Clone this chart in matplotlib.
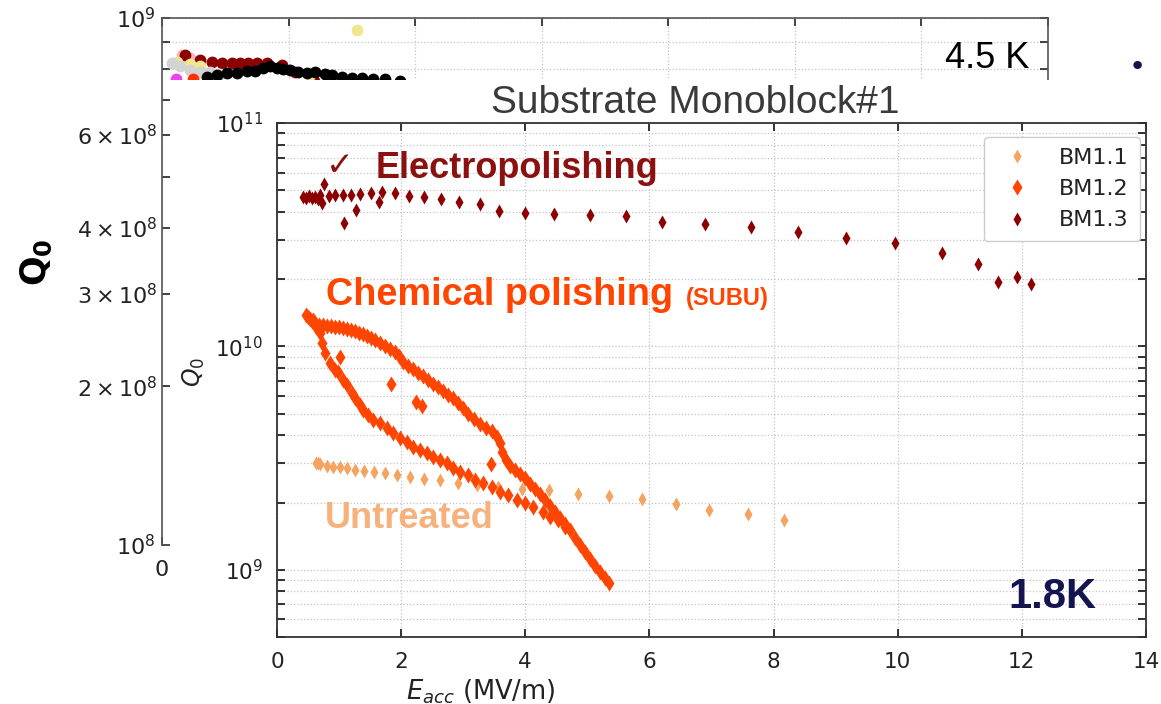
import numpy as np
import matplotlib
matplotlib.use("Agg")
import matplotlib.pyplot as plt
from matplotlib.patches import Rectangle
from matplotlib.ticker import MultipleLocator, LogLocator

# ---------------- data ----------------
# 1.8 K measurements: E_acc (MV/m), Q0
bm11_e = [0.63, 0.66, 0.69, 0.81, 0.90, 1.01, 1.13, 1.26, 1.40, 1.56, 1.74, 1.93, 2.14, 2.37,
          2.63, 2.92, 3.22, 3.56, 3.95, 4.38, 4.85, 5.35, 5.88, 6.43, 6.96, 7.59, 8.17]
bm11_q = [3.01e9, 3.01e9, 2.98e9, 2.92e9, 2.89e9, 2.89e9, 2.86e9, 2.80e9, 2.77e9, 2.74e9,
          2.72e9, 2.66e9, 2.61e9, 2.55e9, 2.53e9, 2.45e9, 2.40e9, 2.35e9, 2.30e9, 2.28e9,
          2.19e9, 2.14e9, 2.08e9, 1.97e9, 1.85e9, 1.78e9, 1.67e9]

bm12_up_e = [0.47, 0.50, 0.53, 0.56, 0.61, 0.68, 0.74, 0.81, 0.87, 0.93, 1.00, 1.06, 1.13, 1.19,
             1.26, 1.32, 1.39, 1.45, 1.51, 1.58, 1.66, 1.74, 1.82, 1.90, 1.97, 2.03, 2.11, 2.19,
             2.27, 2.35, 2.43, 2.51, 2.59, 2.67, 2.75, 2.84, 2.92, 3.00, 3.08, 3.17, 3.27, 3.37,
             3.46, 3.54, 3.59, 3.62, 3.69, 3.75, 3.83, 3.91, 4.00, 4.08, 4.16, 4.24, 4.32, 4.40,
             4.48, 4.56, 4.64, 4.72, 4.80, 4.88, 4.96, 5.04, 5.12, 5.20, 5.28, 5.35]
bm12_up_q = [1.38e10, 1.355e10, 1.33e10, 1.30e10, 1.27e10, 1.25e10, 1.25e10, 1.235e10, 1.235e10,
             1.22e10, 1.22e10, 1.21e10, 1.20e10, 1.185e10, 1.17e10, 1.15e10, 1.14e10, 1.11e10,
             1.09e10, 1.07e10, 1.04e10, 1.00e10, 9.75e9, 9.45e9, 9.07e9, 8.53e9, 8.19e9, 7.93e9,
             7.61e9, 7.38e9, 7.08e9, 6.79e9, 6.59e9, 6.32e9, 6.07e9, 5.89e9, 5.59e9, 5.31e9,
             4.99e9, 4.74e9, 4.50e9, 4.32e9, 4.19e9, 3.94e9, 3.70e9, 3.37e9, 3.11e9, 2.92e9,
             2.80e9, 2.69e9, 2.58e9, 2.43e9, 2.30e9, 2.19e9, 2.06e9, 1.93e9, 1.82e9, 1.71e9,
             1.61e9, 1.50e9, 1.39e9, 1.29e9, 1.20e9, 1.12e9, 1.04e9, 9.8e8, 9.2e8, 8.75e8]
bm12_down_e = [0.58, 0.63, 0.69, 0.72, 0.77, 0.85, 0.93, 0.98, 1.06, 1.13, 1.21, 1.26, 1.34, 1.39,
               1.47, 1.55, 1.66, 1.77, 1.87, 1.98, 2.09, 2.19, 2.30, 2.42, 2.51, 2.63, 2.74, 2.84,
               2.95, 3.08, 3.19, 3.32, 3.46, 3.59, 3.72, 3.87, 4.00, 4.12, 4.29, 4.40, 4.53, 4.64]
bm12_down_q = [1.31e10, 1.22e10, 1.15e10, 1.04e10, 9.36e9, 8.44e9, 7.85e9, 7.69e9, 7.08e9, 6.73e9,
               6.19e9, 5.89e9, 5.47e9, 5.20e9, 4.94e9, 4.69e9, 4.55e9, 4.32e9, 4.10e9, 3.90e9,
               3.74e9, 3.55e9, 3.44e9, 3.34e9, 3.21e9, 3.11e9, 3.01e9, 2.86e9, 2.74e9, 2.66e9,
               2.53e9, 2.45e9, 2.35e9, 2.23e9, 2.17e9, 2.06e9, 2.00e9, 1.91e9, 1.82e9, 1.73e9,
               1.67e9, 1.56e9]
bm12_odd_e = [1.01, 1.84, 2.24, 2.34, 3.45]
bm12_odd_q = [8.97e9, 6.79e9, 5.65e9, 5.42e9, 2.98e9]

bm13_e = [0.42, 0.47, 0.52, 0.57, 0.62, 0.66, 0.70, 0.72, 0.76, 0.84, 0.93, 1.06, 1.08, 1.19,
          1.27, 1.34, 1.51, 1.64, 1.69, 1.90, 2.13, 2.37, 2.64, 2.93, 3.27, 3.58, 4.00, 4.46,
          5.04, 5.63, 6.20, 6.90, 7.64, 8.40, 9.17, 9.96, 10.72, 11.30, 11.62, 11.92, 12.15]
bm13_q = [4.65e10, 4.6e10, 4.7e10, 4.6e10, 4.65e10, 4.55e10, 4.75e10, 4.4e10, 5.33e10, 4.7e10,
          4.75e10, 4.75e10, 3.57e10, 4.75e10, 4.08e10, 4.8e10, 4.87e10, 4.44e10, 4.9e10, 4.85e10,
          4.7e10, 4.65e10, 4.57e10, 4.44e10, 4.35e10, 4.03e10, 3.95e10, 3.9e10, 3.88e10, 3.84e10,
          3.61e10, 3.52e10, 3.44e10, 3.26e10, 3.05e10, 2.91e10, 2.63e10, 2.33e10, 1.95e10,
          2.05e10, 1.91e10]

series_labels = ["BM1.1", "BM1.2", "BM1.3"]

# 4.5 K measurements (upper panel)
bg_pink_e = [0.32, 0.44, 0.57]
bg_pink_q = [8.5e8, 8.4e8, 8.25e8]
bg_darkred_e = [0.36, 0.60, 0.79, 0.95, 1.11, 1.23, 1.36, 1.50, 1.66, 1.90, 2.10, 2.40]
bg_darkred_q = [8.51e8, 8.32e8, 8.25e8, 8.2e8, 8.22e8, 8.2e8, 8.2e8, 8.22e8, 8.2e8, 8.15e8,
                7.9e8, 7.6e8]
bg_khaki_e = [0.24, 0.44, 0.60, 2.34, 2.65, 3.08]
bg_khaki_q = [8.25e8, 8.18e8, 8.1e8, 7.8e8, 7.78e8, 9.49e8]
bg_gray_e = [0.16, 0.28, 0.44, 0.60, 0.76, 0.92]
bg_gray_q = [8.22e8, 8.1e8, 7.97e8, 7.9e8, 7.9e8, 7.83e8]
bg_black_e = [0.71, 0.87, 1.03, 1.18, 1.34, 1.47, 1.60, 1.71, 1.82, 1.91, 2.02, 2.15, 2.29,
              2.42, 2.58, 2.69, 2.84, 3.00, 3.16, 3.33, 3.52, 3.76]
bg_black_q = [7.73e8, 7.8e8, 7.85e8, 7.88e8, 7.92e8, 7.95e8, 8.04e8, 8.11e8, 8.04e8, 8.0e8,
              7.97e8, 7.9e8, 7.87e8, 7.9e8, 7.83e8, 7.8e8, 7.73e8, 7.7e8, 7.7e8, 7.66e8,
              7.66e8, 7.6e8]
bg_violet_e = [0.22]
bg_violet_q = [7.66e8]
bg_red_e = [0.49]
bg_red_q = [7.66e8]

bg_xticks = [0, 2, 4, 6, 8, 10, 12, 14]
bg_xticklabels = ["0", "", "", "", "", "", "", ""]   # the rest sit under the 1.8 K sheet

# ---------------- figure ----------------
W, H = 1161, 704
fig = plt.figure(figsize=(W / 100, H / 100), dpi=100)
fig.patch.set_facecolor("white")


def fx(px):
    return px / W


def fy(py):
    return 1 - py / H


GRID = dict(ls=":", color="#c4c4c4", lw=0.9)
SPINE = "#333333"

# ---- 4.5 K panel (behind) ----
ax_bg = fig.add_axes([fx(162), fy(545), fx(1048) - fx(162), fy(18) - fy(545)])
ax_bg.set_zorder(1)
bg_series = [
    (bg_pink_e, bg_pink_q, "#ffb6c1"),
    (bg_darkred_e, bg_darkred_q, "#8b0000"),
    (bg_khaki_e, bg_khaki_q, "#f0e68c"),
    (bg_gray_e, bg_gray_q, "#d3d3d3"),
    (bg_black_e, bg_black_q, "#000000"),
    (bg_violet_e, bg_violet_q, "#ee44ee"),
    (bg_red_e, bg_red_q, "#ff3300"),
]
for e, q, c in bg_series:
    ax_bg.plot(e, q, "o", color=c, ms=8.5, mec="none")
ax_bg.set_yscale("log")
ax_bg.set_ylim(1e8, 1e9)
ax_bg.set_xlim(0, 14)
ax_bg.set_xticks(bg_xticks, labels=bg_xticklabels)
ax_bg.grid(True, which="both", axis="y", **GRID)
ax_bg.grid(True, which="major", axis="x", **GRID)
ax_bg.tick_params(which="both", direction="in", top=True, right=True, length=6, width=1.2,
                  labelsize=16, colors="#222222")
ax_bg.tick_params(axis="x", pad=11)
ax_bg.tick_params(axis="y", pad=5)
for s in ax_bg.spines.values():
    s.set_color("#555555")
    s.set_linewidth(1.2)

fig.text(fx(36), fy(262), r"$\mathbf{Q_0}$", rotation=90, fontsize=25,
         ha="center", va="center", color="black", zorder=1.5)
fig.text(fx(945), fy(68), "4.5 K", fontsize=26,
         family=["Liberation Sans Narrow", "Liberation Sans"], ha="left", va="baseline",
         color="black", zorder=1.5)
fig.text(fx(1137), fy(67), "\u2022", fontsize=21, color="#141450", ha="center", va="center")

# ---- white sheet holding the 1.8 K panel ----
fig.add_artist(Rectangle((fx(170), 0), 1 - fx(170), fy(80), transform=fig.transFigure,
                         facecolor="white", edgecolor="none", zorder=2))

# ---- 1.8 K panel (front) ----
ax = fig.add_axes([fx(277), fy(637), fx(1146) - fx(277), fy(123) - fy(637)])
ax.set_zorder(3)
mk = dict(marker="d", ls="none", mec="none")
ax.plot(bm11_e, bm11_q, color="#f4a460", ms=7.5, label=series_labels[0], **mk)
ax.plot(bm12_up_e + bm12_down_e + bm12_odd_e, bm12_up_q + bm12_down_q + bm12_odd_q,
        color="#ff4500", ms=8, label=series_labels[1], **mk)
ax.plot(bm13_e, bm13_q, color="#8b0000", ms=7.5, label=series_labels[2], **mk)

ax.set_yscale("log")
ax.set_xlim(0, 14)
ax.set_ylim(5e8, 1e11)
ax.xaxis.set_major_locator(MultipleLocator(2))
ax.yaxis.set_minor_locator(LogLocator(base=10, subs=np.arange(2, 10)))
ax.grid(True, which="both", axis="y", **GRID)
ax.grid(True, which="major", axis="x", **GRID)
ax.tick_params(which="both", direction="in", top=True, right=True, length=6, width=1.3,
               labelsize=15.5, colors="#222222")
ax.tick_params(axis="x", pad=11)
ax.tick_params(axis="y", pad=10)
for s in ax.spines.values():
    s.set_color(SPINE)
    s.set_linewidth(1.3)

ax.set_xlabel(r"$E_{acc}$ (MV/m)", fontsize=18.5, color="#222222")
ax.xaxis.set_label_coords((481 - 277) / 869, (637 - 677) / 514)
ax.set_ylabel(r"$Q_0$", fontsize=17, color="#222222")
ax.yaxis.set_label_coords((207 - 277) / 869, (637 - 372) / 514)

leg = ax.legend(loc="upper right", bbox_to_anchor=((1140 - 277) / 869, (637 - 137) / 514),
                borderaxespad=0, fontsize=16, frameon=True, framealpha=1,
                edgecolor="#cccccc", handletextpad=0.9, borderpad=0.5, labelspacing=0.5)
for t in leg.get_texts():
    t.set_color("#222222")

fig.text(fx(695), fy(113), "Substrate Monoblock#1", fontsize=28, family="Liberation Sans",
         color="#3a3a3a", ha="center", va="baseline", zorder=4)

BOLD = dict(family="Liberation Sans", fontweight="bold", ha="left", va="baseline", zorder=5)
fig.text(fx(326), fy(175), "\u2713", fontsize=24, color="#8b1010", family="DejaVu Sans",
         ha="left", va="baseline", zorder=5)
fig.text(fx(376), fy(178), "Electropolishing", fontsize=26, color="#8b1010", **BOLD)
fig.text(fx(326), fy(305), "Chemical polishing", fontsize=27.3, color="#ff4500", **BOLD)
fig.text(fx(686), fy(305), "(SUBU)", fontsize=17, color="#ff4500", **BOLD)
fig.text(fx(325), fy(528), "Untreated", fontsize=26, color="#f5b27c", **BOLD)
fig.text(fx(1008), fy(608), "1.8K", fontsize=30, color="#141450", **BOLD)

fig.savefig("out.png", dpi=100, facecolor="white")
